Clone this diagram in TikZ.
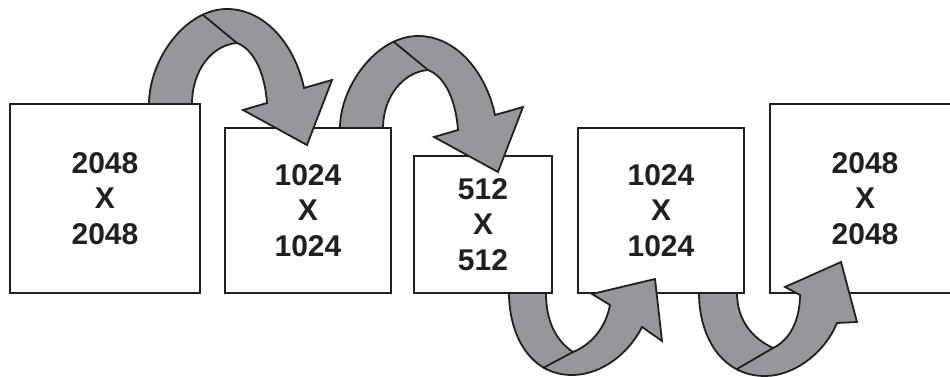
\documentclass[tikz,border=0pt]{standalone}
\usepackage{fontspec}
\setmainfont{Liberation Sans}
\definecolor{inkdark}{RGB}{35,31,32}
\definecolor{hopgray}{RGB}{150,151,155}

\begin{document}
\begin{tikzpicture}[x=1pt, y=-1pt,
    sizebox/.style={draw=inkdark, line width=1.8pt, fill=white, inner sep=0pt, align=center, text=inkdark, font=\fontsize{30}{35.5}\selectfont\bfseries},
    hoparrow/.style={draw=inkdark, line width=1.8pt, fill=hopgray, line join=miter},
    hopseam/.style={draw=inkdark, line width=1.8pt}]
    \useasboundingbox (0,0) rectangle (950,377);

    % Resolution boxes
    \node[sizebox, minimum width=190pt, minimum height=189pt] (full) at (105,198.5) {2048\\X\\2048};
    \node[sizebox, minimum width=166pt, minimum height=165pt] (half) at (308,210.5) {1024\\X\\1024};
    \node[sizebox, minimum width=138pt, minimum height=137pt] (quarter) at (483,224.5) {512\\X\\512};
    \node[sizebox, minimum width=166pt, minimum height=165pt] (halfup) at (661,210.5) {1024\\X\\1024};
    \node[sizebox, minimum width=190pt, minimum height=189pt] (fullup) at (865,198.5) {2048\\X\\2048};

    % Down arrows (over the top)
    \draw[hoparrow] (149,104) .. controls (149,60) and (185,9) .. (227,9) .. controls (265,9) and (295,45) .. (304,88) -- (332,80) -- (307,145) -- (243,110) -- (267,103) .. controls (265,75) and (255,50) .. (237,43) .. controls (212,45) and (192,70) .. (192,104) -- cycle;
    \draw[hopseam] (203,15) -- (237,43);
    \draw[hoparrow] (340,128) .. controls (340,87) and (376,36) .. (418,36) .. controls (456,36) and (486,72) .. (495,115) -- (523,107) -- (498,172) -- (434,137) -- (458,130) .. controls (456,102) and (446,77) .. (428,70) .. controls (403,72) and (383,97) .. (383,128) -- cycle;
    \draw[hopseam] (394,42) -- (428,70);

    % Up arrows (under the bottom)
    \draw[hoparrow] (509,293) .. controls (509,335) and (530,375) .. (572,375) .. controls (600,375) and (628,355) .. (642,327) -- (662,341) -- (655,279) -- (592,294) -- (610,305) .. controls (605,330) and (590,345) .. (573,352) .. controls (555,340) and (546,320) .. (546,293) -- cycle;
    \draw[hopseam] (543,368) -- (573,352);
    \draw[hoparrow] (699,293) .. controls (699,337) and (722,376) .. (765,376) .. controls (795,376) and (825,352) .. (837,323) -- (857,322) -- (841,262) -- (785,287) -- (800,295) .. controls (800,320) and (790,340) .. (773,348) .. controls (752,338) and (737,320) .. (737,293) -- cycle;
    \draw[hopseam] (737,369) -- (773,348);
\end{tikzpicture}
\end{document}
